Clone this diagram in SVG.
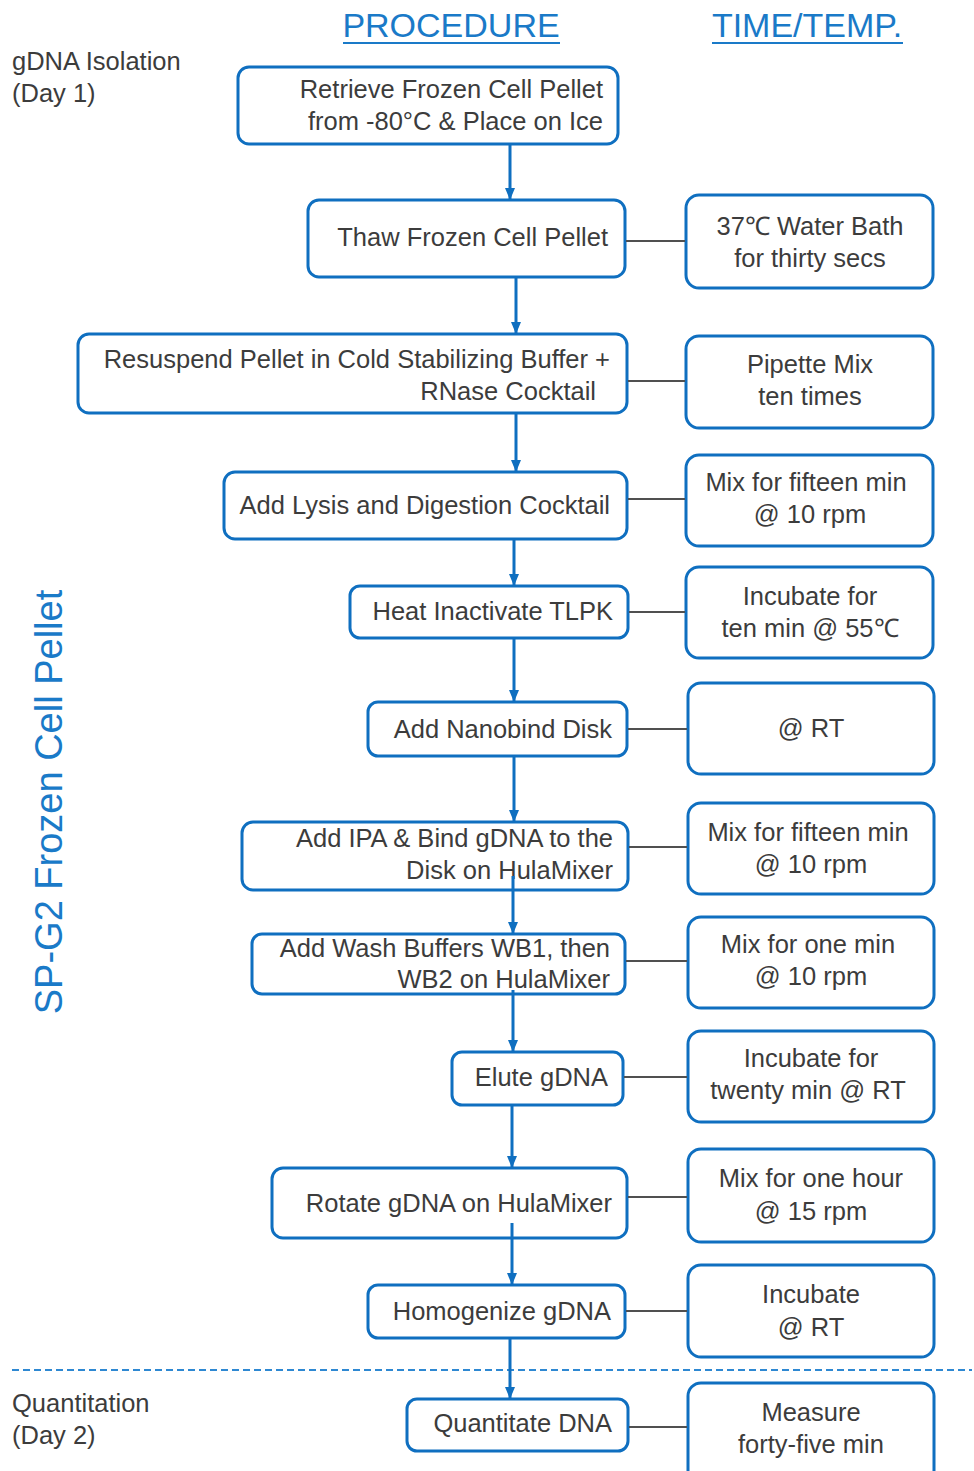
<svg xmlns="http://www.w3.org/2000/svg" width="974" height="1471" viewBox="0 0 974 1471">
<style>
.box{fill:#fff;stroke:#0f6fc0;stroke-width:3}
.t{font-family:"Liberation Sans",Arial,sans-serif;font-size:25.5px;fill:#3c3c3c}
.r{text-anchor:end}
.c{text-anchor:middle}
.hdr{font-family:"Liberation Sans",Arial,sans-serif;font-size:34px;fill:#1a7ac8;text-anchor:middle}
.flow{stroke:#0f6fc0;stroke-width:3;fill:none;marker-end:url(#ah)}
.link{stroke:#505050;stroke-width:2;fill:none}
</style>
<defs>
<marker id="ah" markerUnits="userSpaceOnUse" markerWidth="12" markerHeight="10" viewBox="0 0 12 10" refX="12" refY="5" orient="auto">
<path d="M0,0 L12,5 L0,10 z" fill="#0f6fc0"/>
</marker>
</defs>
<rect width="974" height="1471" fill="#fff"/>

<g id="headers">
<text class="hdr" x="451" y="37">PROCEDURE</text>
<line x1="343" y1="43" x2="560" y2="43" stroke="#1a7ac8" stroke-width="2"/>
<text class="hdr" x="807" y="37">TIME/TEMP.</text>
<line x1="712" y1="43" x2="903" y2="43" stroke="#1a7ac8" stroke-width="2"/>
</g>

<g id="phase-labels">
<text class="t" x="12" y="70">gDNA Isolation</text>
<text class="t" x="12" y="102">(Day 1)</text>
<text class="t" x="12" y="1412">Quantitation</text>
<text class="t" x="12" y="1444">(Day 2)</text>
<text font-family="Liberation Sans,Arial,sans-serif" font-size="38" fill="#1a7ac8" text-anchor="middle" transform="translate(62,802) rotate(-90)">SP-G2 Frozen Cell Pellet</text>
<line x1="12" y1="1370" x2="972" y2="1370" stroke="#2e88d2" stroke-width="2" stroke-dasharray="7,4"/>
</g>

<g id="step1"><rect class="box" x="238" y="67" width="380" height="77" rx="11"/>
<text class="t r" x="603" y="98">Retrieve Frozen Cell Pellet</text>
<text class="t r" x="603" y="130">from -80°C &amp; Place on Ice</text></g>

<g id="step2"><rect class="box" x="308" y="200" width="317" height="77" rx="11"/>
<text class="t r" x="608" y="246">Thaw Frozen Cell Pellet</text></g>

<g id="step3"><rect class="box" x="78" y="334" width="549" height="79" rx="11"/>
<text class="t r" x="610" y="368">Resuspend Pellet in Cold Stabilizing Buffer +</text>
<text class="t r" x="596" y="400">RNase Cocktail</text></g>

<g id="step4"><rect class="box" x="224" y="472" width="403" height="67" rx="11"/>
<text class="t r" x="610" y="514">Add Lysis and Digestion Cocktail</text></g>

<g id="step5"><rect class="box" x="350" y="586" width="278" height="52" rx="10"/>
<text class="t r" x="613" y="620">Heat Inactivate TLPK</text></g>

<g id="step6"><rect class="box" x="368" y="702" width="259" height="54" rx="10"/>
<text class="t r" x="612" y="738">Add Nanobind Disk</text></g>

<g id="step7"><rect class="box" x="242" y="822" width="386" height="68" rx="11"/>
<text class="t r" x="613" y="847">Add IPA &amp; Bind gDNA to the</text>
<text class="t r" x="613" y="879">Disk on HulaMixer</text></g>

<g id="step8"><rect class="box" x="252" y="934" width="373" height="60" rx="10"/>
<text class="t r" x="610" y="957">Add Wash Buffers WB1, then</text>
<text class="t r" x="610" y="988">WB2 on HulaMixer</text></g>

<g id="step9"><rect class="box" x="452" y="1052" width="171" height="53" rx="10"/>
<text class="t r" x="608" y="1086">Elute gDNA</text></g>

<g id="step10"><rect class="box" x="272" y="1168" width="355" height="70" rx="11"/>
<text class="t r" x="612" y="1212">Rotate gDNA on HulaMixer</text></g>

<g id="step11"><rect class="box" x="368" y="1285" width="257" height="53" rx="10"/>
<text class="t r" x="611" y="1320">Homogenize gDNA</text></g>

<g id="step12"><rect class="box" x="407" y="1399" width="221" height="52" rx="10"/>
<text class="t r" x="612" y="1432">Quantitate DNA</text></g>

<g id="time2"><rect class="box" x="686" y="195" width="247" height="93" rx="13"/>
<text class="t c" x="810" y="235">37℃ Water Bath</text>
<text class="t c" x="810" y="267">for thirty secs</text></g>

<g id="time3"><rect class="box" x="686" y="336" width="247" height="92" rx="13"/>
<text class="t c" x="810" y="373">Pipette Mix</text>
<text class="t c" x="810" y="405">ten times</text></g>

<g id="time4"><rect class="box" x="686" y="455" width="247" height="91" rx="13"/>
<text class="t c" x="806" y="491">Mix for fifteen min</text>
<text class="t c" x="810" y="523">@ 10 rpm</text></g>

<g id="time5"><rect class="box" x="686" y="567" width="247" height="91" rx="13"/>
<text class="t c" x="810" y="605">Incubate for</text>
<text class="t c" x="810" y="637">ten min @ 55℃</text></g>

<g id="time6"><rect class="box" x="688" y="683" width="246" height="91" rx="13"/>
<text class="t c" x="811" y="737">@ RT</text></g>

<g id="time7"><rect class="box" x="688" y="803" width="246" height="91" rx="13"/>
<text class="t c" x="808" y="841">Mix for fifteen min</text>
<text class="t c" x="811" y="873">@ 10 rpm</text></g>

<g id="time8"><rect class="box" x="688" y="917" width="246" height="91" rx="13"/>
<text class="t c" x="808" y="953">Mix for one min</text>
<text class="t c" x="811" y="985">@ 10 rpm</text></g>

<g id="time9"><rect class="box" x="688" y="1031" width="246" height="91" rx="13"/>
<text class="t c" x="811" y="1067">Incubate for</text>
<text class="t c" x="808" y="1099">twenty min @ RT</text></g>

<g id="time10"><rect class="box" x="688" y="1149" width="246" height="93" rx="13"/>
<text class="t c" x="811" y="1187">Mix for one hour</text>
<text class="t c" x="811" y="1220">@ 15 rpm</text></g>

<g id="time11"><rect class="box" x="688" y="1265" width="246" height="92" rx="13"/>
<text class="t c" x="811" y="1303">Incubate</text>
<text class="t c" x="811" y="1336">@ RT</text></g>

<g id="time12"><rect class="box" x="688" y="1383" width="246" height="100" rx="13"/>
<text class="t c" x="811" y="1421">Measure</text>
<text class="t c" x="811" y="1453">forty-five min</text></g>

<g id="connectors">
<line class="flow" x1="510" y1="145" x2="510" y2="200"/>
<line class="flow" x1="516" y1="278" x2="516" y2="334"/>
<line class="flow" x1="516" y1="414" x2="516" y2="472"/>
<line class="flow" x1="514" y1="540" x2="514" y2="586"/>
<line class="flow" x1="514" y1="639" x2="514" y2="702"/>
<line class="flow" x1="514" y1="757" x2="514" y2="822"/>
<line class="flow" x1="513" y1="876" x2="513" y2="934"/>
<line class="flow" x1="513" y1="990" x2="513" y2="1052"/>
<line class="flow" x1="512" y1="1106" x2="512" y2="1168"/>
<line class="flow" x1="512" y1="1223" x2="512" y2="1285"/>
<line class="flow" x1="510" y1="1339" x2="510" y2="1399"/>
<line class="link" x1="626" y1="241" x2="685" y2="241"/>
<line class="link" x1="628" y1="381" x2="685" y2="381"/>
<line class="link" x1="628" y1="499" x2="685" y2="499"/>
<line class="link" x1="629" y1="612" x2="685" y2="612"/>
<line class="link" x1="628" y1="729" x2="687" y2="729"/>
<line class="link" x1="629" y1="847" x2="687" y2="847"/>
<line class="link" x1="626" y1="961" x2="687" y2="961"/>
<line class="link" x1="624" y1="1077" x2="687" y2="1077"/>
<line class="link" x1="628" y1="1197" x2="687" y2="1197"/>
<line class="link" x1="626" y1="1311" x2="687" y2="1311"/>
<line class="link" x1="629" y1="1427" x2="687" y2="1427"/>
</g>
</svg>
